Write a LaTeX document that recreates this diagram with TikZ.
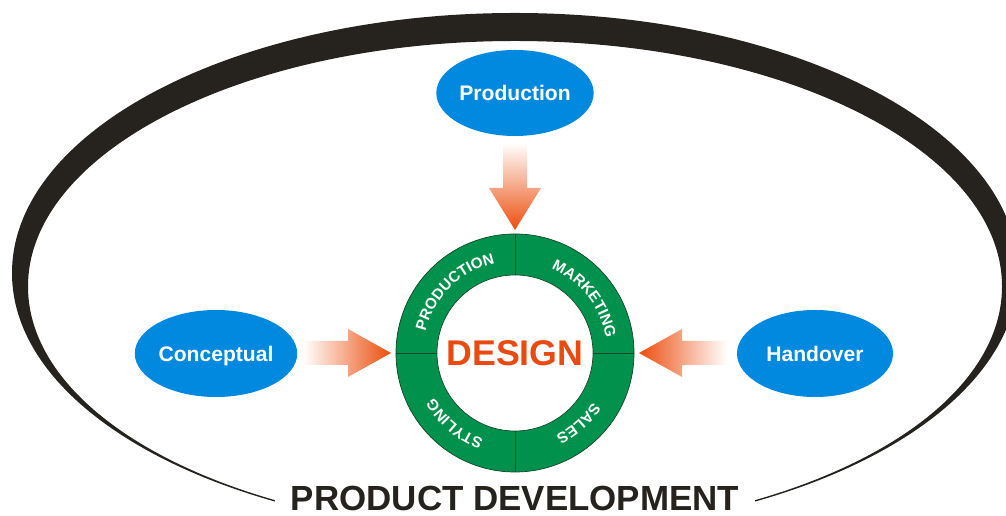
\documentclass[tikz,border=0pt]{standalone}
\usepackage{fontspec}
\setmainfont{Liberation Sans}
\usetikzlibrary{shapes.geometric,decorations.text}
\definecolor{rimblack}{RGB}{38,35,30}
\definecolor{bubbleblue}{RGB}{0,137,222}
\definecolor{ringgreen}{RGB}{0,145,76}
\definecolor{ringline}{RGB}{20,70,40}
\definecolor{designred}{RGB}{232,74,18}
\definecolor{arrowred}{RGB}{236,78,14}

\begin{document}
\begin{tikzpicture}[x=0.03cm,y=0.03cm,
  bubble/.style={ellipse,fill=bubbleblue,inner sep=0pt,text=white,
    font=\fontsize{18}{20}\selectfont\bfseries,text height=12.9pt,text depth=0pt},
  ringlabel/.style={decorate,decoration={text along path,text align=center,
    text color=white,text={|\fontsize{13}{15}\selectfont\bfseries|#1}}}]
\useasboundingbox (0,0) rectangle (1006,516);
% outer rim
\fill[rimblack,even odd rule] (515,243) ellipse [x radius=503,y radius=260]
  (515,229.5) ellipse [x radius=487,y radius=245.5];
\node[anchor=south,fill=white,inner xsep=0.48cm,inner ysep=0.75cm,text depth=0pt,
  text=rimblack,font=\fontsize{29.8}{32}\selectfont\bfseries] (title) at (515,-20) {PRODUCT DEVELOPMENT};
% arrows
\shade[top color=white,bottom color=arrowred] (503,373) -- (527,373) -- (527,328) -- (541,328)
  -- (515,286) -- (489,328) -- (503,328) -- cycle;
\shade[left color=white,right color=arrowred] (303,175) -- (348,175) -- (348,187) -- (391,163)
  -- (348,139) -- (348,151) -- (303,151) -- cycle;
\shade[right color=white,left color=arrowred] (727,175) -- (682,175) -- (682,187) -- (639,163)
  -- (682,139) -- (682,151) -- (727,151) -- cycle;
% bubbles
\node[bubble,minimum width=4.68cm,minimum height=2.58cm] (prod) at (515,423) {Production};
\node[bubble,minimum width=4.74cm,minimum height=2.61cm] (concept) at (216,162.5) {Conceptual};
\node[bubble,minimum width=4.68cm,minimum height=2.61cm] (hand) at (815,162.5) {Handover};
% ring
\node[circle,fill=ringgreen,draw=ringline,line width=0.6pt,minimum size=7.14cm,inner sep=0pt] (ring) at (515,163) {};
\node[circle,fill=white,draw=ringline,line width=0.6pt,minimum size=4.68cm,inner sep=0pt,
  text=designred,font=\fontsize{30.5}{32}\selectfont\bfseries] (core) at (515,163) {DESIGN};
\draw[ringline,line width=0.8pt] (ring.north) -- (core.north) (ring.south) -- (core.south)
  (ring.east) -- (core.east) (ring.west) -- (core.west);
\path[ringlabel=PRODUCTION] (ring.center) ++(179:92) arc (179:90:92);
\path[ringlabel=MARKETING] (ring.center) ++(76:92) arc (76:0:92);
\path[ringlabel=SALES] (ring.center) ++(-6:92) arc (-6:-90:92);
\path[ringlabel=STYLING] (ring.center) ++(270:92) arc (270:189:92);
\end{tikzpicture}
\end{document}
